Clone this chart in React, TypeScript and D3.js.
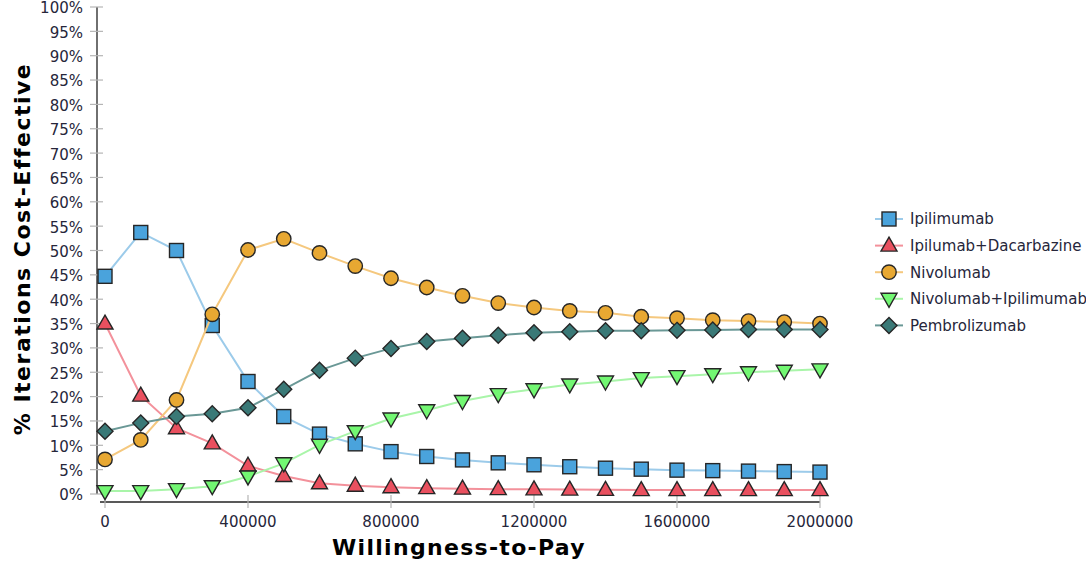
import React from "react";
import * as d3 from "d3";

const wtp = [0, 100000, 200000, 300000, 400000, 500000, 600000, 700000, 800000, 900000, 1000000, 1100000, 1200000, 1300000, 1400000, 1500000, 1600000, 1700000, 1800000, 1900000, 2000000];

const ipilimumab = [44.7, 53.7, 50.0, 34.6, 23.1, 15.9, 12.3, 10.3, 8.7, 7.7, 7.0, 6.4, 6.0, 5.6, 5.3, 5.1, 4.9, 4.8, 4.7, 4.6, 4.5];
const ipiDacarbazine = [35.0, 20.2, 13.5, 10.4, 5.8, 3.7, 2.2, 1.7, 1.4, 1.2, 1.1, 1.0, 0.95, 0.9, 0.85, 0.8, 0.8, 0.8, 0.8, 0.8, 0.8];
const nivolumab = [7.1, 11.1, 19.3, 36.9, 50.1, 52.4, 49.5, 46.8, 44.3, 42.4, 40.7, 39.2, 38.3, 37.6, 37.2, 36.4, 36.1, 35.7, 35.5, 35.3, 35.0];
const nivoIpilimumab = [0.6, 0.6, 1.0, 1.6, 3.6, 6.3, 10.1, 12.9, 15.5, 17.2, 19.1, 20.5, 21.5, 22.5, 23.1, 23.8, 24.2, 24.6, 25.0, 25.3, 25.6];
const pembrolizumab = [12.9, 14.6, 15.9, 16.5, 17.7, 21.5, 25.4, 27.9, 29.9, 31.3, 32.0, 32.6, 33.1, 33.3, 33.5, 33.5, 33.6, 33.7, 33.8, 33.8, 33.8];

const seriesNames = ["Ipilimumab", "Ipilumab+Dacarbazine", "Nivolumab", "Nivolumab+Ipilimumab", "Pembrolizumab"];
const seriesValues = [ipilimumab, ipiDacarbazine, nivolumab, nivoIpilimumab, pembrolizumab];
const fillColors = ["#4aa3dc", "#e9505f", "#e8a832", "#72f772", "#3a7977"];
const lineColors = ["#9ccbea", "#f3919b", "#f5c87e", "#a9f5a9", "#6a9896"];
const symbolKinds = ["square", "triangle", "circle", "triangleDown", "diamond"];

const yTicks = d3.range(0, 101, 5);
const xTicks = [0, 400000, 800000, 1200000, 1600000, 2000000];

const FONT = "'DejaVu Sans', Verdana, sans-serif";

function Marker({ kind, x, y, fill }: { kind: string; x: number; y: number; fill: string }) {
  const st = { fill, stroke: "#262626", strokeWidth: 1.4 } as any;
  if (kind === "square") return <rect x={x - 7} y={y - 7} width={14} height={14} {...st} />;
  if (kind === "circle") return <circle cx={x} cy={y} r={7.2} {...st} />;
  if (kind === "triangle")
    return <path d={`M${x},${y - 8.5} L${x + 8},${y + 5.5} L${x - 8},${y + 5.5} Z`} {...st} />;
  if (kind === "triangleDown")
    return <path d={`M${x},${y + 8.5} L${x + 8},${y - 5.5} L${x - 8},${y - 5.5} Z`} {...st} />;
  return <path d={`M${x},${y - 8} L${x + 8},${y} L${x},${y + 8} L${x - 8},${y} Z`} {...st} />;
}

export default function App() {
  const W = 1086, H = 562;
  const x = d3.scaleLinear().domain([0, 2000000]).range([105, 820]);
  const y = d3.scaleLinear().domain([0, 100]).range([494, 7]);
  const line = d3
    .line<number>()
    .x((_, i) => x(wtp[i]))
    .y((d) => y(d))
    .curve(d3.curveLinear);

  const axisX = 97;
  const axisY = 502;
  const legendX = 889;
  const legendY0 = 219;
  const legendStep = 26.6;

  return (
    <svg width={W} height={H} style={{ position: "absolute", left: 0, top: 0, background: "#fff" }} fontFamily={FONT}>
      {/* y axis */}
      <line x1={axisX} x2={axisX} y1={y(100)} y2={y(0)} stroke="#222" strokeWidth={1.3} />
      {yTicks.map((t) => (
        <g key={"y" + t}>
          <line x1={axisX - 7} x2={axisX + 6} y1={y(t)} y2={y(t)} stroke="#b5b5b5" strokeWidth={1.2} />
          <text x={83} y={y(t) + 1} dy="0.36em" textAnchor="end" fontSize={15} fill="#26263a">
            {t + "%"}
          </text>
        </g>
      ))}
      {/* x axis */}
      <line x1={axisX + 3} x2={x(2000000)} y1={axisY} y2={axisY} stroke="#222" strokeWidth={1.3} />
      {xTicks.map((t) => (
        <g key={"x" + t}>
          <line x1={x(t)} x2={x(t)} y1={axisY - 7} y2={axisY + 6} stroke="#b5b5b5" strokeWidth={1.2} />
          <text x={x(t)} y={522} dy="0.36em" textAnchor="middle" fontSize={15} fill="#26263a">
            {String(t)}
          </text>
        </g>
      ))}
      <text x={459} y={547} dy="0.36em" textAnchor="middle" fontSize={22} fontWeight="bold" letterSpacing={1.3} fill="#000">
        Willingness-to-Pay
      </text>
      <text
        transform={`translate(22,249) rotate(-90)`}
        dy="0.36em"
        textAnchor="middle"
        fontSize={22}
        fontWeight="bold"
        letterSpacing={1.5}
        fill="#000"
      >
        % Iterations Cost-Effective
      </text>

      {/* series */}
      {seriesValues.map((vals, si) => (
        <g key={"s" + si}>
          <path d={line(vals) || ""} fill="none" stroke={lineColors[si]} strokeWidth={2} />
          {vals.map((v, i) => (
            <Marker key={i} kind={symbolKinds[si]} x={x(wtp[i])} y={y(v)} fill={fillColors[si]} />
          ))}
        </g>
      ))}

      {/* legend */}
      {seriesNames.map((name, si) => {
        const ly = legendY0 + si * legendStep;
        return (
          <g key={"l" + si}>
            <line x1={legendX - 14} x2={legendX + 14} y1={ly} y2={ly} stroke={lineColors[si]} strokeWidth={2} />
            <Marker kind={symbolKinds[si]} x={legendX} y={ly} fill={fillColors[si]} />
            <text x={910} y={ly} dy="0.36em" fontSize={15} fill="#26263a">
              {name}
            </text>
          </g>
        );
      })}
    </svg>
  );
}
